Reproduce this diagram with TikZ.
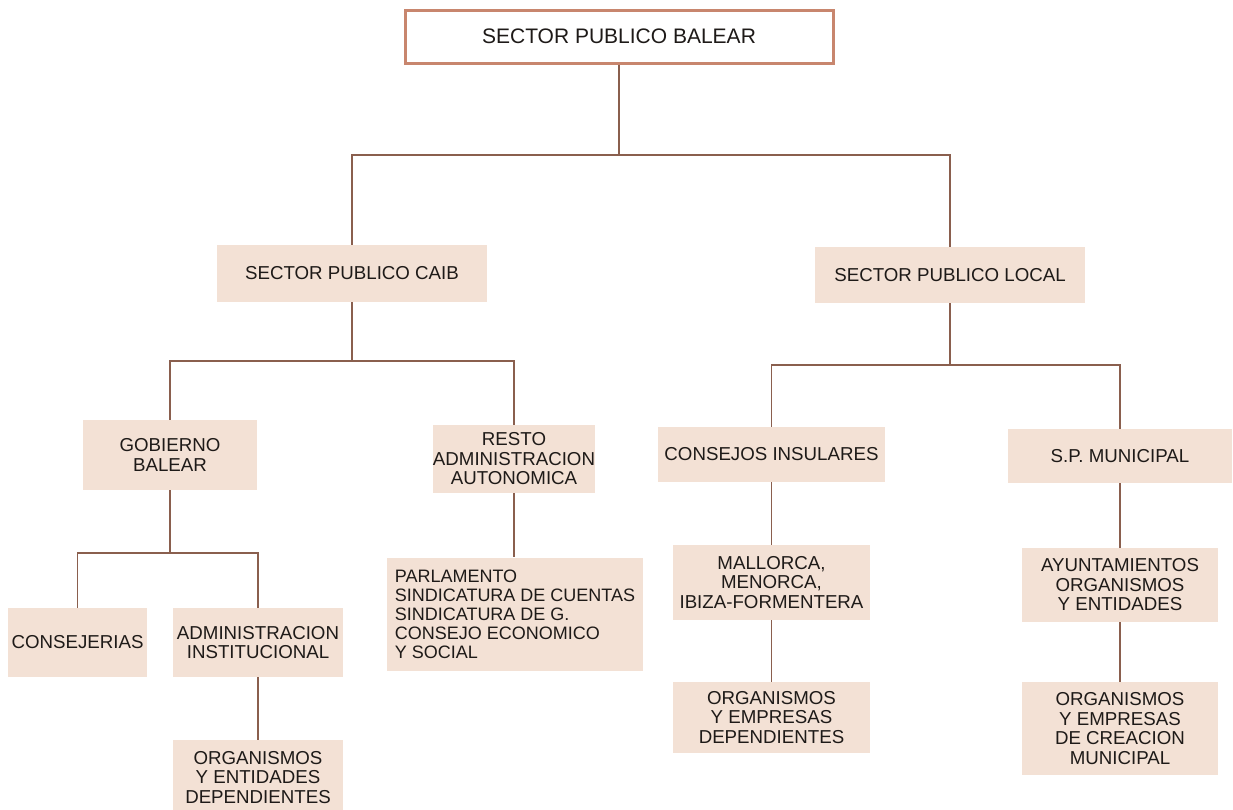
\documentclass[tikz,border=0pt]{standalone}
\usepackage{fontspec}
\setmainfont{Liberation Sans}
\definecolor{boxfill}{HTML}{F3E1D5}
\definecolor{linkcol}{HTML}{8A5F4E}
\definecolor{topborder}{HTML}{C8866E}
\definecolor{textcol}{HTML}{1E1A18}
\begin{document}
\begin{tikzpicture}[x=1pt,y=-1pt,
  box/.style={fill=boxfill, draw=none, inner sep=0pt, align=center,
    font=\fontsize{18.7}{19.5}\selectfont, text=textcol},
  topbox/.style={fill=white, draw=topborder, line width=3pt, inner sep=0pt,
    font=\fontsize{21}{23}\selectfont, text=textcol},
  link/.style={draw=linkcol, line width=1.8pt}]
\useasboundingbox (0,0) rectangle (1233,809);
\fill[white] (0,0) rectangle (1233,809);
\clip (0,0) rectangle (1233,809);

% nodes
\node[topbox, minimum width=428, minimum height=53] (top) at (619,36.5) {SECTOR PUBLICO BALEAR};

\node[box, minimum width=270, minimum height=57] (caib) at (352,273.5) {SECTOR PUBLICO CAIB};
\node[box, minimum width=270, minimum height=56] (local) at (950,275) {SECTOR PUBLICO LOCAL};

\node[box, minimum width=174, minimum height=70] (gob) at (170,455) {GOBIERNO\\BALEAR};
\node[box, minimum width=162, minimum height=68] (resto) at (514,459) {RESTO\\ADMINISTRACION\\AUTONOMICA};
\node[box, minimum width=227, minimum height=55] (cons) at (771.5,454.5) {CONSEJOS INSULARES};
\node[box, minimum width=224, minimum height=54] (spm) at (1120,456) {S.P. MUNICIPAL};

\node[box, minimum width=139, minimum height=69] (conse) at (77.5,642.5) {CONSEJERIAS};
\node[box, minimum width=170, minimum height=69] (adm) at (258,642.5) {ADMINISTRACION\\INSTITUCIONAL};
\node[box, minimum width=170, minimum height=75] (orgent) at (258,777.5) {ORGANISMOS\\Y ENTIDADES\\DEPENDIENTES};

\node[box, minimum width=256, minimum height=113, align=left,
  font=\fontsize{18}{19}\selectfont] (parl) at (515,614)
  {PARLAMENTO\\SINDICATURA DE CUENTAS\\SINDICATURA DE G.\\CONSEJO ECONOMICO\\Y SOCIAL};

\node[box, minimum width=197, minimum height=75] (mall) at (771.5,582.5) {MALLORCA,\\MENORCA,\\IBIZA-FORMENTERA};
\node[box, minimum width=197, minimum height=71] (orgemp) at (771.5,717.5) {ORGANISMOS\\Y EMPRESAS\\DEPENDIENTES};

\node[box, minimum width=196, minimum height=74] (ayun) at (1120,585) {AYUNTAMIENTOS\\ORGANISMOS\\Y ENTIDADES};
\node[box, minimum width=196, minimum height=93] (orgmun) at (1120,728.5) {ORGANISMOS\\Y EMPRESAS\\DE CREACION\\MUNICIPAL};

% junction levels
\coordinate (j1) at (619,155);
\coordinate (j2) at (352,361);
\coordinate (j3) at (950,365);
\coordinate (j4) at (170,553);

% connectors
\draw[link] (top.south) -- (top.south |- j1) -| (caib.north);
\draw[link] (top.south |- j1) -| (local.north);

\draw[link] (caib.south) -- (caib.south |- j2) -| (gob.north);
\draw[link] (caib.south |- j2) -| (resto.north);

\draw[link] (local.south) -- (local.south |- j3) -| (cons.north);
\draw[link] (local.south |- j3) -| (spm.north);

\draw[link] (gob.south) -- (gob.south |- j4) -| (conse.north);
\draw[link] (gob.south |- j4) -| (adm.north);

\draw[link] (adm.south) -- (orgent.north);
\draw[link] (resto.south) -- (resto.south |- parl.north);
\draw[link] (cons.south) -- (mall.north);
\draw[link] (mall.south) -- (orgemp.north);
\draw[link] (spm.south) -- (ayun.north);
\draw[link] (ayun.south) -- (orgmun.north);
\end{tikzpicture}
\end{document}
